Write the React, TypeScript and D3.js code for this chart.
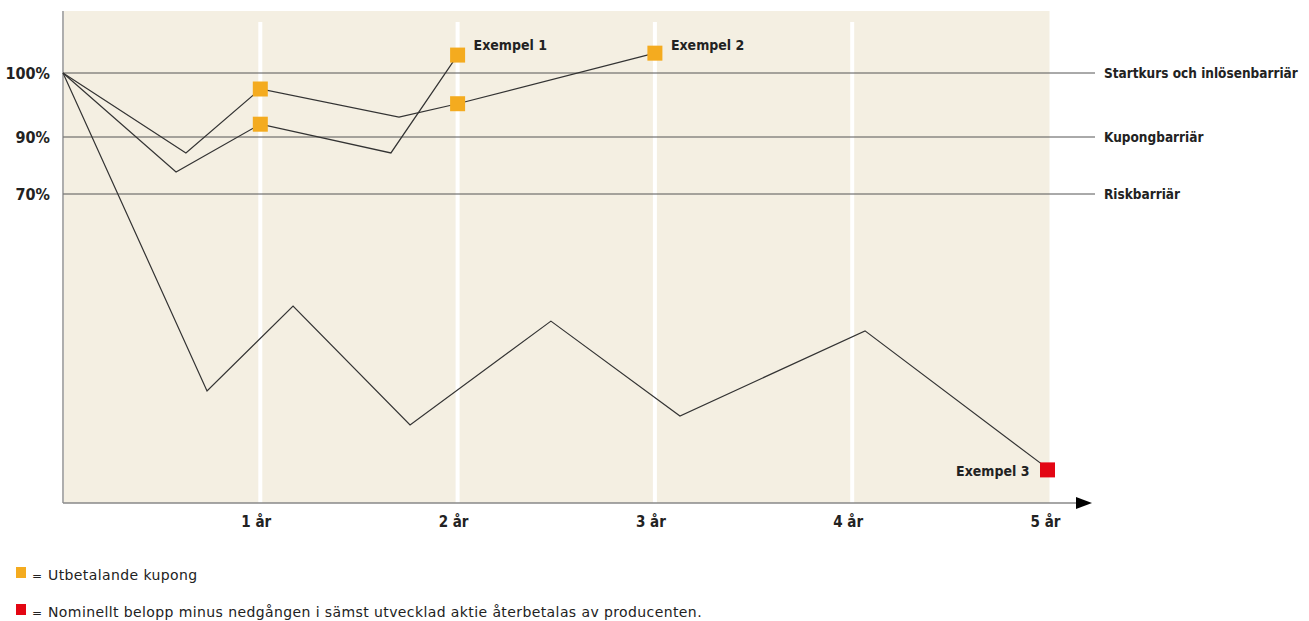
import React from "react";
import * as d3 from "d3";

const yearTicks = [1, 2, 3, 4, 5];
const yearLabels = ["1 år", "2 år", "3 år", "4 år", "5 år"];

const barrierLevels = [100, 90, 70];
const barrierLeftLabels = ["100%", "90%", "70%"];
const barrierRightLabels = ["Startkurs och inlösenbarriär", "Kupongbarriär", "Riskbarriär"];

// Exempel 1 path (year, level)
const ex1Years = [0, 0.573, 1, 1.662, 2];
const ex1Values = [100, 77.7, 92.0, 84.4, 102.8];
// Exempel 2 path
const ex2Years = [0, 0.623, 1, 1.703, 2, 3];
const ex2Values = [100, 84.4, 97.5, 93.1, 95.2, 103.1];
// Exempel 3 path
const ex3Years = [0, 0.73, 1.166, 1.759, 2.473, 3.127, 4.065, 5];
const ex3Values = [100, 25.4, 44.6, 17.7, 41.2, 19.7, 39.0, 7.5];

// coupon markers (orange) and final red marker
const couponYears = [1, 1, 2, 2, 3];
const couponValues = [97.5, 92.0, 95.2, 102.8, 103.1];
const redYears = [5];
const redValues = [7.5];

const exampleLabels = ["Exempel 1", "Exempel 2", "Exempel 3"];
const legendTexts = [
  "Utbetalande kupong",
  "Nominellt belopp minus nedgången i sämst utvecklad aktie återbetalas av producenten.",
];

const ORANGE = "#f4ab1f";
const RED = "#e30613";
const BG = "#f4efe2";
const LINE = "#333333";
const FONT = "'DejaVu Sans Condensed', 'DejaVu Sans', sans-serif";
const LEGEND_FONT = "'DejaVu Sans', sans-serif";

export default function App() {
  const W = 1309;
  const H = 621;
  const x = d3.scaleLinear().domain([0, 5]).range([63, 1049.5]);
  const y = d3.scaleLinear().domain([0, 70, 90, 100, 110]).range([503, 194, 137, 73, 9]);
  const line = d3
    .line<[number, number]>()
    .x((d) => x(d[0]))
    .y((d) => y(d[1]));
  const series = [
    ex1Years.map((t, i) => [t, ex1Values[i]] as [number, number]),
    ex2Years.map((t, i) => [t, ex2Values[i]] as [number, number]),
    ex3Years.map((t, i) => [t, ex3Values[i]] as [number, number]),
  ];
  const top = 11;
  const bottom = 503;
  const ms = 15;
  return (
    <svg
      width={W}
      height={H}
      style={{ position: "absolute", left: 0, top: 0, display: "block" }}
      fontFamily={FONT}
    >
      <rect x={x(0) + 1} y={top} width={x(5) - x(0) - 1} height={bottom - top} fill={BG} />
      {yearTicks
        .filter((t) => t < 5)
        .map((t) => (
          <line key={"g" + t} x1={x(t)} x2={x(t)} y1={22} y2={bottom} stroke="#ffffff" strokeWidth={4} />
        ))}
      {barrierLevels.map((v, i) => (
        <g key={"b" + v}>
          <line x1={x(0)} x2={1095} y1={y(v)} y2={y(v)} stroke="#555" strokeWidth={1} />
          <text x={50} y={y(v) + 6} textAnchor="end" fontSize={16} fontWeight="bold" fill="#222">
            {barrierLeftLabels[i]}
          </text>
          <text x={1104} y={y(v) + 5} fontSize={13.5} fontWeight="bold" fill="#222">
            {barrierRightLabels[i]}
          </text>
        </g>
      ))}
      <line x1={x(0)} x2={x(0)} y1={top} y2={bottom} stroke="#777" strokeWidth={1.2} />
      <line x1={x(0)} x2={1080} y1={bottom} y2={bottom} stroke="#888" strokeWidth={1.5} />
      <path d={`M1076,497 L1092,503 L1076,509 Z`} fill="#000" />
      {yearTicks.map((t, i) => (
        <text key={"t" + t} x={x(t) - 4} y={527} textAnchor="middle" fontSize={15} fontWeight="bold" fill="#222">
          {yearLabels[i]}
        </text>
      ))}
      {series.map((s, i) => (
        <path key={"s" + i} d={line(s) || ""} fill="none" stroke={LINE} strokeWidth={1.2} />
      ))}
      {couponYears.map((t, i) => (
        <rect key={"c" + i} x={x(t) - ms / 2} y={y(couponValues[i]) - ms / 2} width={ms} height={ms} fill={ORANGE} />
      ))}
      {redYears.map((t, i) => (
        <rect key={"r" + i} x={x(t) - ms / 2 - 2} y={y(redValues[i]) - ms / 2} width={ms} height={ms} fill={RED} />
      ))}
      <text x={x(2) + 16} y={y(102.8) - 5} fontSize={14} fontWeight="bold" fill="#222">
        {exampleLabels[0]}
      </text>
      <text x={x(3) + 16} y={y(103.1) - 3} fontSize={14} fontWeight="bold" fill="#222">
        {exampleLabels[1]}
      </text>
      <text x={x(5) - 20} y={y(7.5) + 6} textAnchor="end" fontSize={14} fontWeight="bold" fill="#222">
        {exampleLabels[2]}
      </text>
      <rect x={16} y={567} width={10} height={11} fill={ORANGE} />
      <text x={32} y={580} fontSize={12} fill="#222" fontFamily={LEGEND_FONT}>=</text>
      <text x={48} y={580} fontSize={14} letterSpacing={0.4} fill="#222" fontFamily={LEGEND_FONT}>
        {legendTexts[0]}
      </text>
      <rect x={16} y={604} width={10} height={11} fill={RED} />
      <text x={32} y={617} fontSize={12} fill="#222" fontFamily={LEGEND_FONT}>=</text>
      <text x={48} y={617} fontSize={14} letterSpacing={0.4} fill="#222" fontFamily={LEGEND_FONT}>
        {legendTexts[1]}
      </text>
    </svg>
  );
}
